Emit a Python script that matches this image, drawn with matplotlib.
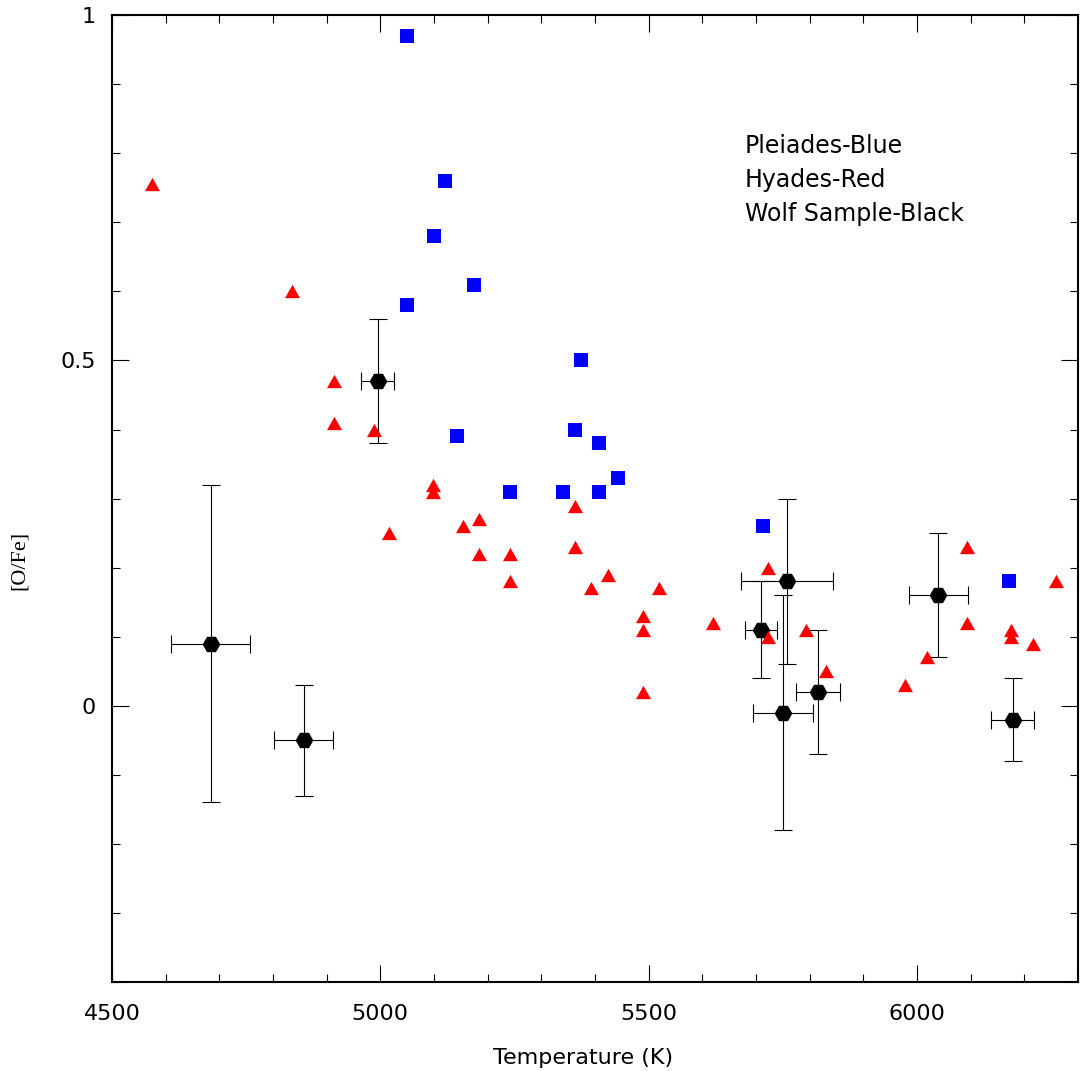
import matplotlib
matplotlib.use("Agg")
import matplotlib.pyplot as plt
from matplotlib.ticker import FixedLocator, MultipleLocator, FixedFormatter

# Pleiades stars
pleiades_teff = [5050, 5120, 5100, 5175, 5050, 5374, 5143, 5363, 5408,
                 5242, 5341, 5408, 5443, 5714, 6172]
pleiades_ofe = [0.97, 0.76, 0.68, 0.61, 0.58, 0.50, 0.39, 0.40, 0.38,
                0.31, 0.31, 0.31, 0.33, 0.26, 0.18]

# Hyades stars
hyades_teff = [4574, 4835, 4913, 4913, 4989, 5017, 5099, 5099, 5155, 5184,
               5184, 5242, 5242, 5363, 5363, 5424, 5393, 5519, 5489, 5489,
               5489, 5620, 5722, 5722, 5793, 5830, 5978, 6018, 6094, 6094,
               6176, 6176, 6217, 6259]
hyades_ofe = [0.755, 0.60, 0.47, 0.41, 0.40, 0.25, 0.32, 0.31, 0.26, 0.27,
              0.22, 0.22, 0.18, 0.29, 0.23, 0.19, 0.17, 0.17, 0.13, 0.11,
              0.02, 0.12, 0.20, 0.10, 0.11, 0.05, 0.03, 0.07, 0.23, 0.12,
              0.11, 0.10, 0.09, 0.18]

# Wolf sample with uncertainties
wolf_teff = [4684, 4857, 4995, 5758, 5710, 5751, 5816, 6040, 6179]
wolf_ofe = [0.09, -0.05, 0.47, 0.18, 0.11, -0.01, 0.02, 0.16, -0.02]
wolf_teff_err = [74, 55, 31, 85, 30, 56, 41, 55, 40]
wolf_ofe_err = [0.23, 0.08, 0.09, 0.12, 0.07, 0.17, 0.09, 0.09, 0.06]

x_major = [4500, 5000, 5500, 6000]
x_labels = ["4500", "5000", "5500", "6000"]
y_major = [0, 0.5, 1]
y_labels = ["0", "0.5", "1"]
legend_lines = ["Pleiades-Blue", "Hyades-Red", "Wolf Sample-Black"]

plt.rcParams["font.family"] = ["DejaVu Sans"]

fig = plt.figure(figsize=(10.8, 10.71), dpi=100)
ax = fig.add_axes([0.1037, 0.0831, 0.998 - 0.1037, 0.9858 - 0.0831])

ax.errorbar(wolf_teff, wolf_ofe, xerr=wolf_teff_err, yerr=wolf_ofe_err,
            fmt="none", ecolor="black", elinewidth=0.8, capsize=6.5,
            capthick=0.8, zorder=2)
ax.plot(wolf_teff, wolf_ofe, linestyle="none", marker="H", markersize=12.8,
        color="black", markeredgewidth=0, zorder=3)

ax.plot(pleiades_teff, pleiades_ofe, linestyle="none", marker="s",
        markersize=9.4, color="#0000ff", markeredgewidth=0, zorder=4)

tri = [(0, 0.89), (-1, -0.89), (1, -0.89), (0, 0.89)]
ax.plot(hyades_teff, hyades_ofe, linestyle="none", marker=tri,
        markersize=10.8, color="#ff0000", markeredgewidth=0, zorder=5)

ax.set_xlim(4500, 6300)
ax.set_ylim(-0.4, 1.0)

ax.xaxis.set_major_locator(FixedLocator(x_major))
ax.xaxis.set_major_formatter(FixedFormatter(x_labels))
ax.xaxis.set_minor_locator(MultipleLocator(100))
ax.yaxis.set_major_locator(FixedLocator(y_major))
ax.yaxis.set_major_formatter(FixedFormatter(y_labels))
ax.yaxis.set_minor_locator(MultipleLocator(0.1))

ax.tick_params(which="both", direction="in", top=True, right=True,
               width=0.8, color="black")
ax.tick_params(which="major", length=12.5)
ax.tick_params(which="minor", length=6)
ax.tick_params(axis="x", which="major", labelsize=16, pad=16)
ax.tick_params(axis="y", which="major", labelsize=16, pad=11.5)

for sp in ax.spines.values():
    sp.set_linewidth(1.5)

ax.set_xlabel("Temperature (K)", fontsize=16)
ax.xaxis.set_label_coords(0.488, -0.068)
ax.set_ylabel("[O/Fe]", fontsize=16,
              family=["Liberation Serif", "DejaVu Serif"])
ax.yaxis.set_label_coords(-0.086, 0.436)

for i, line in enumerate(legend_lines):
    ax.text(0.655, 0.865 - i * 0.0355, line, transform=ax.transAxes,
            fontsize=17, ha="left", va="center")

fig.savefig("out.png", dpi=100)
